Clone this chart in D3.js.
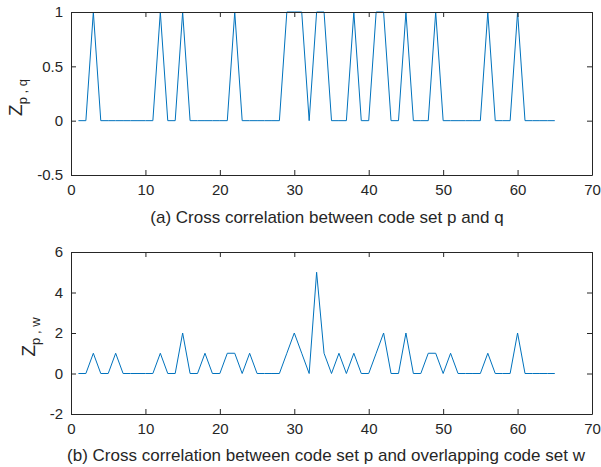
<!DOCTYPE html>
<html>
<head>
<meta charset="utf-8">
<script src="https://cdn.jsdelivr.net/npm/d3@7"></script>
<style>
  body { margin: 0; background: #fff; }
  svg { font-family: "Liberation Sans", Arial, Helvetica, sans-serif; }
</style>
</head>
<body>
<svg id="chart" width="601" height="467"></svg>
<script>
// correlation values, one per code shift (shift = index + 1)
var zpq = [0, 0, 1, 0, 0, 0, 0, 0, 0, 0, 0, 1, 0, 0, 1, 0, 0, 0, 0, 0,
           0, 1, 0, 0, 0, 0, 0, 0, 1, 1, 1, 0, 1, 1, 0, 0, 0, 1, 0, 0,
           1, 1, 0, 0, 1, 0, 0, 0, 1, 0, 0, 0, 0, 0, 0, 1, 0, 0, 0, 1,
           0, 0, 0, 0, 0];
var zpw = [0, 0, 1, 0, 0, 1, 0, 0, 0, 0, 0, 1, 0, 0, 2, 0, 0, 1, 0, 0,
           1, 1, 0, 1, 0, 0, 0, 0, 1, 2, 1, 0, 5, 1, 0, 1, 0, 1, 0, 0,
           1, 2, 0, 0, 2, 0, 0, 1, 1, 0, 1, 0, 0, 0, 0, 1, 0, 0, 0, 2,
           0, 0, 0, 0, 0];

var xTicks = [0, 10, 20, 30, 40, 50, 60, 70];
var yTicksA = [-0.5, 0, 0.5, 1];
var yTicksB = [-2, 0, 2, 4, 6];
var titleA = "(a) Cross correlation between code set p and q";
var titleB = "(b) Cross correlation between code set p and overlapping code set w";

var svg = d3.select("#chart");
var axisColor = "#262626";
var lineColor = "#0072bd";

function drawPanel(opts) {
  var x = d3.scaleLinear().domain([0, 70]).range([71, 592]);
  var y = d3.scaleLinear().domain(opts.yDomain).range([opts.bottom, opts.top]);
  var g = svg.append("g");

  // data line
  var line = d3.line()
               .x((d, i) => x(i + 1))
               .y(d => y(d));
  g.append("path")
    .datum(opts.values)
    .attr("fill", "none")
    .attr("stroke", lineColor)
    .attr("stroke-width", 1)
    .attr("d", line);

  // box with inward ticks on all four sides, matlab style labels
  var tk = 5;
  var fmt = d => String(d);
  var axB = g.append("g").attr("transform", "translate(0," + opts.bottom + ")")
             .call(d3.axisBottom(x).tickValues(xTicks).tickFormat(fmt).tickSizeInner(-tk).tickSizeOuter(0).tickPadding(9));
  var axT = g.append("g").attr("transform", "translate(0," + opts.top + ")")
             .call(d3.axisTop(x).tickValues(xTicks).tickSizeInner(-tk).tickSizeOuter(0).tickFormat(""));
  var axL = g.append("g").attr("transform", "translate(71,0)")
             .call(d3.axisLeft(y).tickValues(opts.yTicks).tickFormat(fmt).tickSizeInner(-tk).tickSizeOuter(0).tickPadding(8));
  var axR = g.append("g").attr("transform", "translate(592,0)")
             .call(d3.axisRight(y).tickValues(opts.yTicks).tickSizeInner(-tk).tickSizeOuter(0).tickFormat(""));

  [axB, axT, axL, axR].forEach(a => {
    a.select(".domain").attr("stroke", axisColor).attr("stroke-width", 1);
    a.selectAll(".tick line").attr("stroke", axisColor).attr("stroke-width", 1);
    a.selectAll(".tick text").attr("fill", axisColor).attr("font-size", 15)
      .attr("font-family", "Liberation Sans, Arial, sans-serif");
  });

  // title under the axis
  g.append("text")
    .attr("x", opts.titleX)
    .attr("y", opts.titleY)
    .attr("text-anchor", "middle")
    .attr("font-size", 17)
    .attr("fill", axisColor)
    .text(opts.title);

  // y label Z with subscript
  var yl = g.append("text")
    .attr("transform", "translate(" + opts.labelX + "," + ((opts.top + opts.bottom) / 2 + 4) + ") rotate(-90)")
    .attr("text-anchor", "middle")
    .attr("fill", axisColor)
    .attr("font-size", 19);
  yl.append("tspan").text("Z");
  yl.append("tspan").attr("dy", 5).attr("font-size", 13).text(opts.sub);
}

drawPanel({
  values: zpq, yDomain: [-0.5, 1], yTicks: yTicksA,
  top: 12, bottom: 175, title: titleA, titleX: 327, titleY: 223,
  labelX: 22, sub: "p , q"
});
drawPanel({
  values: zpw, yDomain: [-2, 6], yTicks: yTicksB,
  top: 252, bottom: 414, title: titleB, titleX: 326, titleY: 461,
  labelX: 35, sub: "p , w"
});
</script>
</body>
</html>
